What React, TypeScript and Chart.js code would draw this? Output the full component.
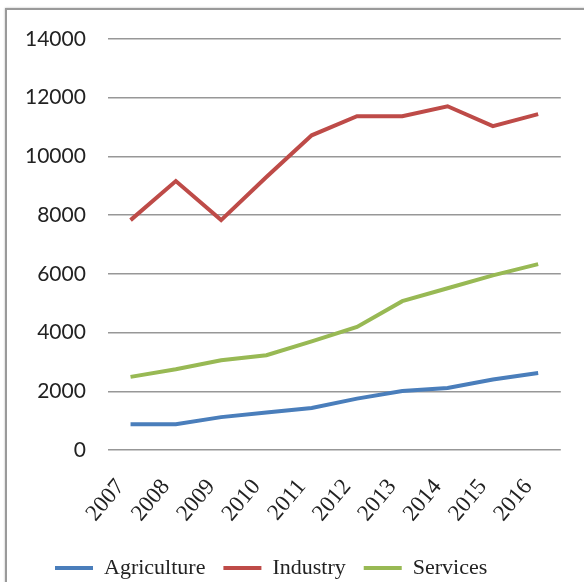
import React, { useEffect, useRef } from "react";
import { Chart, registerables } from "chart.js";

Chart.register(...registerables);

const years = ["2007", "2008", "2009", "2010", "2011", "2012", "2013", "2014", "2015", "2016"];
const agriculture = [880, 880, 1120, 1280, 1430, 1750, 2010, 2110, 2400, 2620];
const industry = [7830, 9160, 7830, 9300, 10720, 11370, 11370, 11710, 11030, 11440];
const services = [2490, 2750, 3060, 3230, 3700, 4190, 5070, 5510, 5950, 6330];
const yTicks = [0, 2000, 4000, 6000, 8000, 10000, 12000, 14000];

const shiftLegend = {
  id: "shiftLegend",
  afterLayout(chart: any) {
    if (chart.legend) {
      chart.legend.left += 34;
      chart.legend.right += 34;
    }
  },
};

export default function App() {
  const ref = useRef<HTMLCanvasElement | null>(null);
  useEffect(() => {
    document.body.style.margin = "0";
    const ctx = ref.current!;
    const chart = new Chart(ctx, {
      type: "line",
      data: {
        labels: years,
        datasets: [
          { label: "Agriculture", data: agriculture, borderColor: "#4A7EBB", backgroundColor: "#4A7EBB", borderWidth: 4, pointRadius: 0, tension: 0 },
          { label: "Industry", data: industry, borderColor: "#BE4B48", backgroundColor: "#BE4B48", borderWidth: 4, pointRadius: 0, tension: 0 },
          { label: "Services", data: services, borderColor: "#98B954", backgroundColor: "#98B954", borderWidth: 4, pointRadius: 0, tension: 0 },
        ],
      },
      plugins: [shiftLegend],
      options: {
        animation: false,
        responsive: false,
        layout: { padding: { left: 3, right: 14, top: 39, bottom: 0 } },
        scales: {
          x: {
            offset: true,
            grid: { display: false, drawTicks: false },
            border: { display: false },
            afterFit: (axis: any) => {
              axis.height = 89;
            },
            ticks: {
              minRotation: 50,
              maxRotation: 50,
              padding: 24,
              labelOffset: -10,
              color: "#222",
              font: { family: "'Liberation Serif', 'Times New Roman', serif", size: 23 },
            },
          },
          y: {
            min: 0,
            max: 14000,
            afterBuildTicks: (axis: any) => {
              axis.ticks = yTicks.map((v) => ({ value: v }));
            },
            grid: { color: "#979797", lineWidth: 1.5, drawTicks: false },
            border: { display: false },
            ticks: {
              padding: 22,
              color: "#222",
              callback: (v: any) => String(v),
              font: { family: "Lato, 'Liberation Sans', sans-serif", size: 21 },
            },
          },
        },
        plugins: {
          tooltip: { enabled: false },
          legend: {
            position: "bottom",
            align: "start",
            labels: {
              boxWidth: 38,
              boxHeight: 4,
              padding: 18,
              color: "#222",
              font: { family: "'Liberation Serif', 'Times New Roman', serif", size: 22 },
              generateLabels: (c: any) =>
                Chart.defaults.plugins.legend.labels.generateLabels(c).map((l: any) => ({ ...l, lineWidth: 0 })),
            },
          },
        },
      },
    });
    return () => chart.destroy();
  }, []);
  return (
    <div style={{ position: "relative", width: 584, height: 582, overflow: "hidden", background: "#fff" }}>
      <div
        style={{
          position: "absolute",
          left: 5,
          top: 8,
          width: 620,
          height: 620,
          border: "2px solid #9a9a9a",
          boxShadow: "0 0 2px #bbb",
        }}
      />
      <canvas ref={ref} width={584} height={589} style={{ position: "absolute", left: 0, top: 0 }} />
    </div>
  );
}
